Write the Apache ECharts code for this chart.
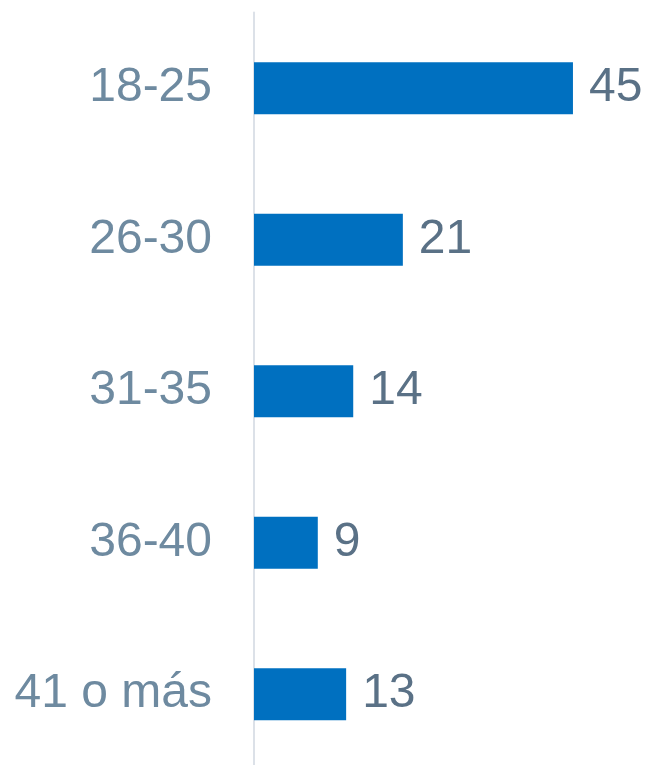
<!DOCTYPE html>
<html>
<head>
<meta charset="utf-8">
<style>html,body{margin:0;padding:0;background:#fff;overflow:hidden;}#c{width:648px;height:775px;}</style>
<script src="https://cdn.jsdelivr.net/npm/echarts@6/dist/echarts.min.js"></script>
</head>
<body>
<div id="c"></div>
<script>
const categories = ['18-25', '26-30', '31-35', '36-40', '41 o más'];
const values = [45, 21, 14, 9, 13];

const chart = echarts.init(document.getElementById('c'));
chart.setOption({
  animation: false,
  grid: { left: 254, top: 12.5, width: 354.4, height: 757.5, containLabel: false },
  xAxis: {
    type: 'value', min: 0, max: 50,
    show: false
  },
  yAxis: {
    type: 'category',
    data: categories,
    inverse: true,
    axisLine: { show: true, lineStyle: { color: '#DCE1E8', width: 2 } },
    axisTick: { show: false },
    axisLabel: {
      margin: 42,
      fontFamily: 'Liberation Sans, Arial, sans-serif',
      fontSize: 48,
      color: '#6E8AA0'
    }
  },
  series: [{
    type: 'bar',
    data: values,
    barWidth: 52,
    itemStyle: { color: '#0070C0' },
    label: {
      show: true,
      position: 'right',
      distance: 16,
      fontFamily: 'Liberation Sans, Arial, sans-serif',
      fontSize: 48,
      color: '#5A7186'
    }
  }]
});
</script>
</body>
</html>
